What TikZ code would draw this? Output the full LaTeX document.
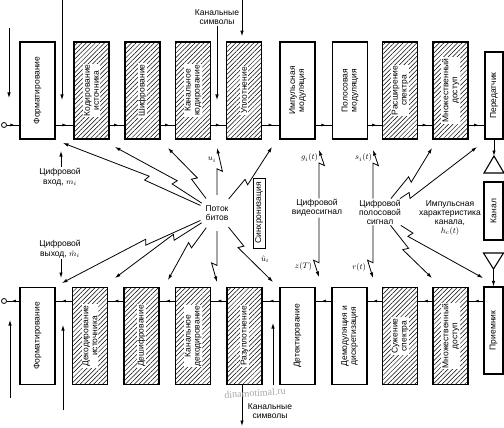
\documentclass[tikz,border=0pt]{standalone}
\usepackage{fontspec}
\setmainfont{Liberation Sans}
\newfontfamily\wmfont{Liberation Serif}
\usetikzlibrary{arrows.meta,calc,positioning,decorations.markings,patterns.meta}

\tikzset{
blk/.style={draw,line width=1.1pt,minimum width=35pt,minimum height=97pt,inner sep=0pt},
hblk/.style={blk,line width=1.7pt,pattern={Lines[angle=45,distance=3.2pt,line width=0.5pt]}},
txt/.style={rotate=90,align=center,fill=white,inner sep=1pt},
lbl/.style={align=center,inner sep=1pt},
flow/.style={line width=0.9pt,decoration={markings,mark=at position 0.6 with {\arrow{Latex[length=4pt,width=3pt]}}},postaction={decorate}},
ray/.style={->,line width=0.8pt},
zz/.style={to path={-- ($(\tikztostart)!#1!(\tikztotarget)$) -- ($(\tikztostart)!#1!(\tikztotarget)!6pt!-115:(\tikztotarget)$) -- (\tikztotarget) \tikztonodes}},
zz/.default=0.5
}

\begin{document}
\begin{tikzpicture}[x=1pt,y=-1pt,font=\fontsize{8.5}{9}\selectfont,>={Latex[length=5.5pt,width=3.5pt]}]
\useasboundingbox (0,0) rectangle (504,428);
\coordinate (r1) at (0,125);
\coordinate (r2) at (0,301);

% transmitter
\node[circle,draw,line width=0.8pt,minimum size=5pt,inner sep=0pt] (o1) at (4,125) {};
\node[blk] (F1) at (37.5,90.5) {};
\node[hblk] (KI1) at (91.5,90.5) {};
\node[hblk] (SH1) at (142.5,90.5) {};
\node[hblk] (KK1) at (193,90.5) {};
\node[hblk] (UP1) at (244,90.5) {};
\node[blk] (IM1) at (297.5,90.5) {};
\node[blk] (PM1) at (350,90.5) {};
\node[hblk] (RS1) at (400,90.5) {};
\node[hblk] (MD1) at (450.5,90.5) {};
\node[blk,minimum width=18pt,minimum height=87pt] (PD) at (494,95.5) {};
\node[txt] (F1t) at (F1) {Форматирование};
\node[txt] (KI1t) at (KI1) {Кодирование\\источника};
\node[txt] (SH1t) at (SH1) {Шифрование};
\node[txt] (KK1t) at (KK1) {Канальное\\кодирование};
\node[txt] (UP1t) at (UP1) {Уплотнение};
\node[txt] (IM1t) at (IM1) {Импульсная\\модуляция};
\node[txt] (PM1t) at (PM1) {Полосовая\\модуляция};
\node[txt] (RS1t) at (RS1) {Расширение\\спектра};
\node[txt] (MD1t) at (MD1) {Множественный\\доступ};
\node[txt] (PDt) at (PD) {Передатчик};
\path (o1) edge[flow] (F1.west |- r1)
(F1.east |- r1) edge[flow] (KI1.west |- r1)
(KI1.east |- r1) edge[flow] (SH1.west |- r1)
(SH1.east |- r1) edge[flow] (KK1.west |- r1)
(KK1.east |- r1) edge[flow] (UP1.west |- r1)
(UP1.east |- r1) edge[flow] (IM1.west |- r1)
(IM1.east |- r1) edge[flow] (PM1.west |- r1)
(PM1.east |- r1) edge[flow] (RS1.west |- r1)
(RS1.east |- r1) edge[flow] (MD1.west |- r1)
(MD1.east |- r1) edge[flow] (PD.west |- r1);

% receiver
\node[circle,draw,line width=0.8pt,minimum size=5pt,inner sep=0pt] (o2) at (4,301) {};
\node[blk] (F2) at (37.5,336) {};
\node[hblk] (DI2) at (90,336) {};
\node[hblk] (DS2) at (141.5,336) {};
\node[hblk] (KD2) at (193,336) {};
\node[hblk] (RZ2) at (244.5,336) {};
\node[blk] (DT2) at (297.5,336) {};
\node[blk] (DM2) at (349.5,336) {};
\node[hblk] (SS2) at (400,336) {};
\node[hblk] (MD2) at (450.5,336) {};
\node[blk,minimum width=19pt,minimum height=87pt] (PR) at (493.5,330.5) {};
\node[txt] (F2t) at (F2) {Форматирование};
\node[txt] (DI2t) at (DI2) {Декодирование\\источника};
\node[txt] (DS2t) at (DS2) {Дешифрование};
\node[txt] (KD2t) at (KD2) {Канальное\\декодирование};
\node[txt] (RZ2t) at (RZ2) {Разуплотнение};
\node[txt] (DT2t) at (DT2) {Детектирование};
\node[txt] (DM2t) at (DM2) {Демодуляция и\\дискретизация};
\node[txt] (SS2t) at (SS2) {Сужение\\спектра};
\node[txt] (MD2t) at (MD2) {Множественный\\доступ};
\node[txt] (PRt) at (PR) {Приемник};
\path (PR.west |- r2) edge[flow] (MD2.east |- r2)
(MD2.west |- r2) edge[flow] (SS2.east |- r2)
(SS2.west |- r2) edge[flow] (DM2.east |- r2)
(DM2.west |- r2) edge[flow] (DT2.east |- r2)
(DT2.west |- r2) edge[flow] (RZ2.east |- r2)
(RZ2.west |- r2) edge[flow] (KD2.east |- r2)
(KD2.west |- r2) edge[flow] (DS2.east |- r2)
(DS2.west |- r2) edge[flow] (DI2.east |- r2)
(DI2.west |- r2) edge[flow] (F2.east |- r2)
(F2.west |- r2) edge[flow] (o2);

% channel
\coordinate (ta) at (494,156);
\coordinate (ra) at (493.5,269);
\draw[->,line width=0.9pt] (PD.south) -- (ta);
\draw[line width=1.1pt] (ta) -- ++(-10,17) -- ++(20,0) -- cycle;
\node[draw,line width=1.1pt,rotate=90,minimum width=58pt,minimum height=19pt,inner sep=1pt] (KN) at (493.5,211) {Канал};
\draw[line width=1.1pt] (ra) -- ++(-10,-16) -- ++(20,0) -- cycle;
\draw[->,line width=0.9pt] (ra) -- (PR.north);

% side arrows
\coordinate (a1) at (9,28);
\coordinate (a2) at (9,98);
\coordinate (a3) at (62,0);
\coordinate (a4) at (62,100);
\coordinate (kc) at (218,100);
\coordinate (m0) at (242,0);
\coordinate (c1) at (10,398);
\coordinate (c2) at (10,320);
\coordinate (c3) at (63,410);
\coordinate (c4) at (63,325);
\coordinate (c5) at (273,385);
\coordinate (c6) at (273,323);
\coordinate (d0) at (0,426);
\draw[->,line width=0.8pt] (a1) -- (a2);
\draw[->,line width=0.8pt] (a3) -- (a4);
\draw[->,line width=0.8pt] (m0) -- (m0 |- UP1.north) [shorten >=5pt];
\draw[->,line width=0.8pt] (c1) -- (c2);
\draw[->,line width=0.8pt] (c3) -- (c4);
\draw[->,line width=0.8pt] (c5) -- (c6);
\node[lbl] (ks1) at (217,17) {Канальные\\символы};
\node[lbl] (ks2) at (270,411) {Канальные\\символы};
\draw[->,line width=0.8pt] (ks1) -- (ks1 |- kc);
\draw[->,line width=0.8pt] (RZ2.south -| m0) -- (m0 |- d0);

% labels
\coordinate (gin) at (61,151);
\coordinate (gout) at (61,278);
\node[lbl,font=\fontsize{8.5}{10}\selectfont] (din) at (60,177) {Цифровой\\вход, $m_i$};
\node[lbl,font=\fontsize{8.5}{10.5}\selectfont] (dout) at (60,249) {Цифровой\\выход, $\hat{m}_i$};
\draw[->,line width=0.8pt] (din.north -| gin) -- (gin);
\draw[->,line width=0.8pt] (dout.south -| gout) -- (gout);
\node[draw,line width=1pt,rotate=90,minimum width=70pt,minimum height=12pt,inner sep=1pt] (SY) at (259,213) {Синхронизация};
\node[lbl] (VS) at (317,208) {Цифровой\\видеосигнал};
\node[lbl] (PS) at (380,212) {Цифровой\\полосовой\\сигнал};
\node[lbl] (HC) at (450,218) {Импульсная\\характеристика\\канала,\\$h_c(t)$};

% bit stream
\node[circle,align=center,inner sep=0pt,minimum size=36pt] (PB) at (217,213) {Поток\\битов};
\coordinate (t1) at (63,143);
\coordinate (t2) at (115,147);
\coordinate (t3) at (168,148);
\coordinate (u) at (217,148);
\coordinate (t5) at (272,147);
\coordinate (b1) at (62,283);
\coordinate (b2) at (115,278);
\coordinate (b3) at (168,280);
\coordinate (ub) at (217,282);
\coordinate (b5) at (273,282);
\path[ray] (PB) edge[zz=0.47] (t1)
(PB) edge[zz=0.44] (t2)
(PB) edge[zz=0.52] (t3)
(PB) edge[zz=0.68] node[left,pos=0.5]{$u_i$} (u)
(PB) edge[zz=0.51] (t5)
(PB) edge[zz=0.46] (b1)
(PB) edge[zz=0.42] (b2)
(PB) edge[zz=0.52] (b3)
(PB) edge[zz=0.76] (ub)
(PB) edge[zz=0.48] node[above right,pos=0.55]{$\hat{u}_i$} (b5);

% signals
\coordinate (g) at (319,150);
\coordinate (z) at (319,277);
\coordinate (s) at (373,150);
\coordinate (r) at (373,278);
\coordinate (p1) at (432,148);
\coordinate (p2) at (477,147);
\coordinate (q1) at (432,278);
\coordinate (q2) at (483,278);
\path[ray] (VS.north -| g) edge[zz=0.73] node[left,pos=0.5]{$g_i(t)$} (g)
(VS.south -| z) edge[zz=0.76] node[left,pos=0.4]{$z(T)$} (z)
(PS.north -| s) edge[zz=0.73] node[left,pos=0.5]{$s_i(t)$} (s)
(PS.south -| r) edge[zz=0.71] node[left,pos=0.4]{$r(t)$} (r)
(PS) edge[zz=0.55] (p1)
(PS) edge[zz=0.3] (p2)
(PS) edge[zz=0.55] (q1)
(PS) edge[zz=0.32] (q2);

\node[text=black!35,rotate=4,font=\wmfont\fontsize{10}{10}\selectfont] (wm) at (255,393) {dinamotimal.ru};
\end{tikzpicture}
\end{document}
